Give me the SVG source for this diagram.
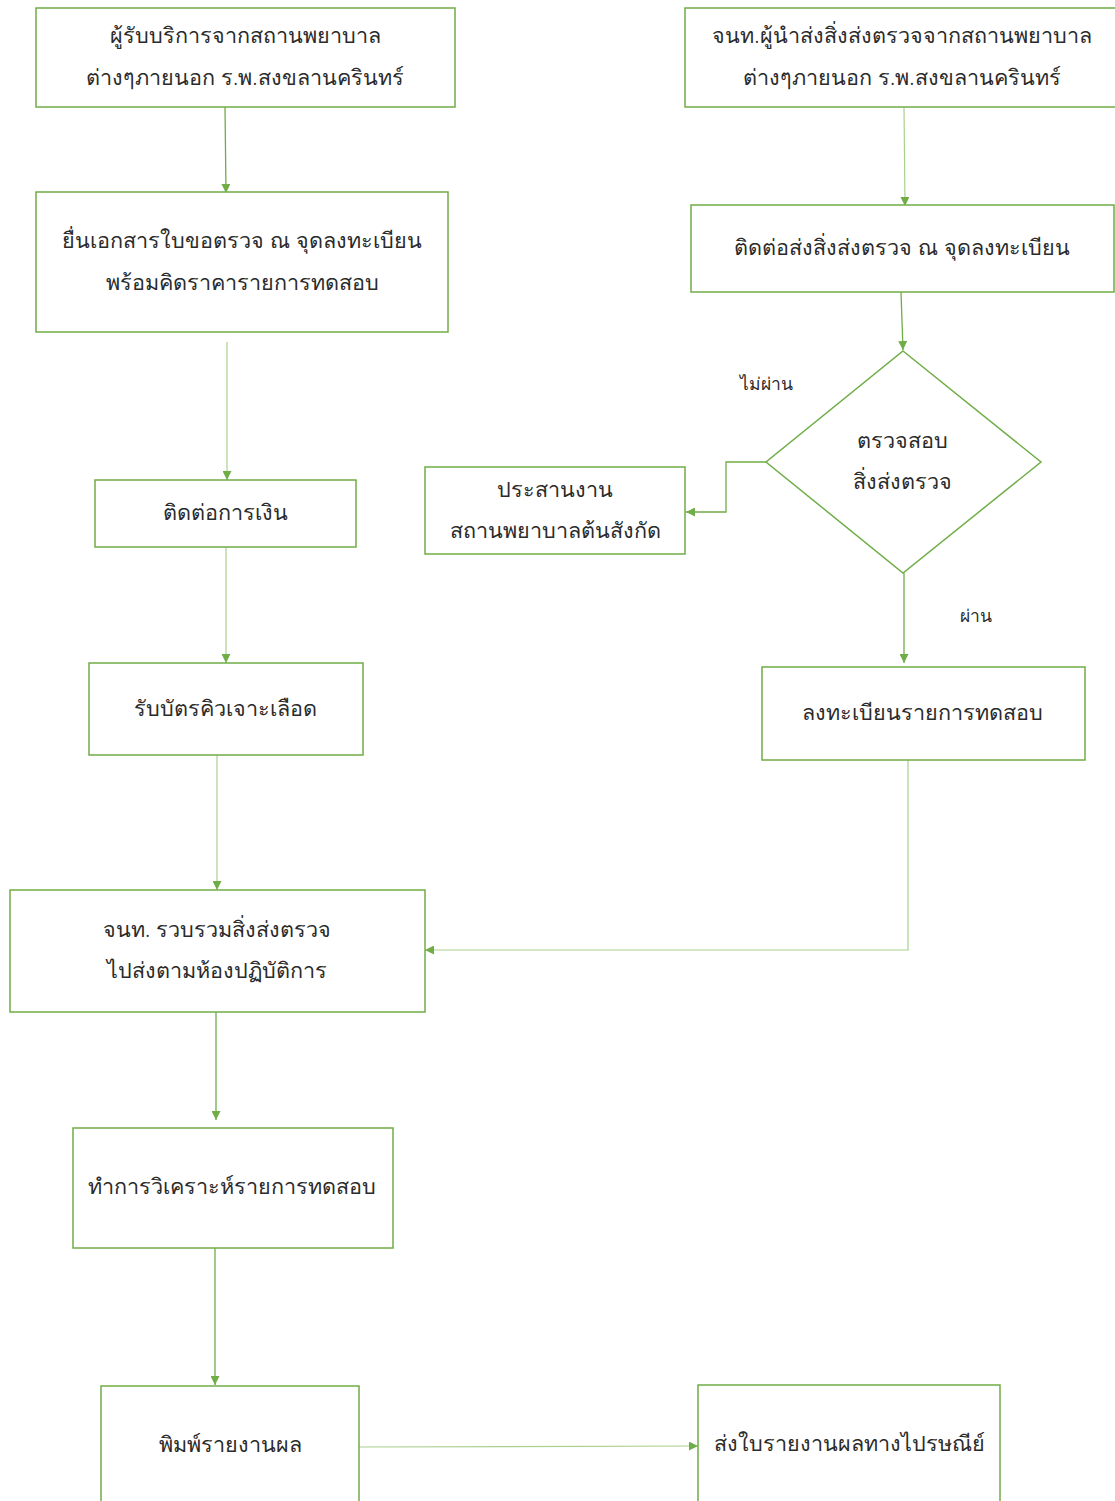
<svg xmlns="http://www.w3.org/2000/svg" width="1115" height="1501" viewBox="0 0 1115 1501">
  <defs>
    <marker id="arrow" viewBox="0 0 10 10" refX="10" refY="5" markerWidth="9" markerHeight="9" markerUnits="userSpaceOnUse" orient="auto">
      <path d="M0,0 L10,5 L0,10 z" fill="#70ad47"/>
    </marker>
    <style>
      .box { fill: #ffffff; stroke: #70ad47; stroke-width: 1.5; }
      .edge { fill: none; stroke: #70ad47; stroke-width: 1.3; }
      .thin { fill: none; stroke: #a9d18e; stroke-width: 1.2; }
      .t { font-family: "Noto Sans", "Liberation Sans", sans-serif; font-size: 21.6px; font-weight: 300; fill: #2b2b2b; text-anchor: middle; dominant-baseline: central; }
      .lbl { font-family: "Noto Sans", "Liberation Sans", sans-serif; font-size: 17.5px; font-weight: 300; fill: #2b2b2b; text-anchor: middle; dominant-baseline: central; }
    </style>
  </defs>
  <rect width="1115" height="1501" fill="#ffffff"/>

  <g id="connectors">
    <path class="edge" d="M225,107 L226,193" marker-end="url(#arrow)"/>
    <path class="thin" d="M227,342 L227,480" marker-end="url(#arrow)"/>
    <path class="thin" d="M226,547 L226,663" marker-end="url(#arrow)"/>
    <path class="thin" d="M217,755 L217,890" marker-end="url(#arrow)"/>
    <path class="edge" d="M216,1012 L216,1120" marker-end="url(#arrow)"/>
    <path class="edge" d="M215,1248 L215,1385" marker-end="url(#arrow)"/>
    <path class="thin" d="M359,1447 L698,1446" marker-end="url(#arrow)"/>
    <path class="thin" d="M904,107 L905,206" marker-end="url(#arrow)"/>
    <path class="edge" d="M901,292 L903,350" marker-end="url(#arrow)"/>
    <path class="edge" d="M766,462 L726,462 L726,512 L686,512" marker-end="url(#arrow)"/>
    <path class="edge" d="M904,573 L904,663" marker-end="url(#arrow)"/>
    <path class="thin" d="M908,760 L908,950 L425,950" marker-end="url(#arrow)"/>
  </g>

  <g id="n1">
    <rect class="box" x="36" y="8" width="419" height="99"/>
    <text class="t" x="245" y="34">ผู้รับบริการจากสถานพยาบาล</text>
    <text class="t" x="245" y="76">ต่างๆภายนอก ร.พ.สงขลานครินทร์</text>
  </g>
  <g id="n2">
    <rect class="box" x="685" y="8" width="431" height="99"/>
    <text class="t" x="902" y="34">จนท.ผู้นำส่งสิ่งส่งตรวจจากสถานพยาบาล</text>
    <text class="t" x="902" y="76">ต่างๆภายนอก ร.พ.สงขลานครินทร์</text>
  </g>
  <g id="n3">
    <rect class="box" x="36" y="192" width="412" height="140"/>
    <text class="t" x="242" y="239">ยื่นเอกสารใบขอตรวจ ณ จุดลงทะเบียน</text>
    <text class="t" x="242" y="281">พร้อมคิดราคารายการทดสอบ</text>
  </g>
  <g id="n4">
    <rect class="box" x="95" y="480" width="261" height="67"/>
    <text class="t" x="225" y="511">ติดต่อการเงิน</text>
  </g>
  <g id="n5">
    <rect class="box" x="89" y="663" width="274" height="92"/>
    <text class="t" x="225" y="707">รับบัตรคิวเจาะเลือด</text>
  </g>
  <g id="n6">
    <rect class="box" x="10" y="890" width="415" height="122"/>
    <text class="t" x="217" y="928">จนท. รวบรวมสิ่งส่งตรวจ</text>
    <text class="t" x="217" y="969">ไปส่งตามห้องปฏิบัติการ</text>
  </g>
  <g id="n7">
    <rect class="box" x="73" y="1128" width="320" height="120"/>
    <text class="t" x="232" y="1185">ทำการวิเคราะห์รายการทดสอบ</text>
  </g>
  <g id="n8">
    <rect class="box" x="101" y="1386" width="258" height="120"/>
    <text class="t" x="230" y="1443">พิมพ์รายงานผล</text>
  </g>
  <g id="n9">
    <rect class="box" x="698" y="1385" width="302" height="121"/>
    <text class="t" x="849" y="1442">ส่งใบรายงานผลทางไปรษณีย์</text>
  </g>
  <g id="n10">
    <rect class="box" x="691" y="205" width="423" height="87"/>
    <text class="t" x="902" y="246">ติดต่อส่งสิ่งส่งตรวจ ณ จุดลงทะเบียน</text>
  </g>
  <g id="n11">
    <polygon class="box" points="903,351 1041,462 903,573 766,462"/>
    <text class="t" x="902" y="439">ตรวจสอบ</text>
    <text class="t" x="902" y="480">สิ่งส่งตรวจ</text>
  </g>
  <g id="n12">
    <rect class="box" x="425" y="467" width="260" height="87"/>
    <text class="t" x="555" y="488">ประสานงาน</text>
    <text class="t" x="555" y="529">สถานพยาบาลต้นสังกัด</text>
  </g>
  <g id="n13">
    <rect class="box" x="762" y="667" width="323" height="93"/>
    <text class="t" x="922" y="711">ลงทะเบียนรายการทดสอบ</text>
  </g>

  <text class="lbl" x="766" y="383">ไม่ผ่าน</text>
  <text class="lbl" x="976" y="615">ผ่าน</text>
</svg>
